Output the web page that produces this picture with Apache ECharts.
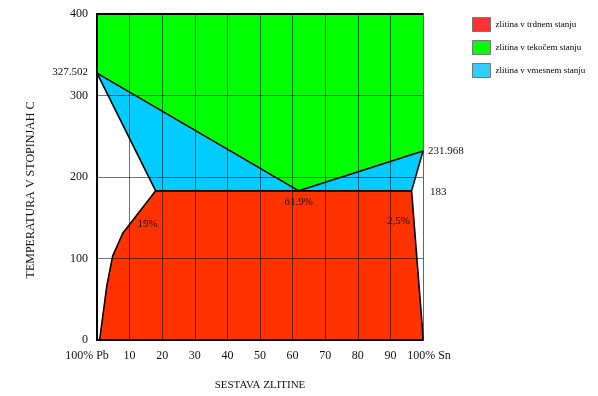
<!DOCTYPE html>
<html>
<head>
<meta charset="utf-8">
<script src="https://cdn.jsdelivr.net/npm/echarts@6/dist/echarts.min.js"></script>
<style>html,body{margin:0;padding:0;background:#fff}#c{width:598px;height:396px}</style>
</head>
<body>
<div id="c"></div>
<script>
// ---- data ----
const xTickLabels = ['100% Pb','10','20','30','40','50','60','70','80','90','100% Sn'];
const yTicks = [0,100,200,300,400];
const seriesNames = ['zlitina v trdnem stanju','zlitina v tekočem stanju','zlitina v vmesnem stanju'];
// phase regions (x = % Sn, y = temperature °C)
const solidRegion  = [[0.8,0],[3,66],[4.8,103],[7.9,131],[18,183],[96.5,183],[99.8,15],[100,0]];
const liquidRegion = [[0,400],[100,400],[100,231.968],[61.9,183],[0,327.502]];
const mushyRegion  = [[0,327.502],[18,183],[96.5,183],[100,231.968],[61.9,183]];
// boundary lines
const liquidusLine     = [[0,327.502],[61.9,183],[100,231.968]];
const leftSolidusLine  = [[0,327.502],[18,183],[7.9,131],[4.8,103],[3,66],[0.8,0]];
const eutecticLine     = [[18,183],[96.5,183]];
const rightSolidusLine = [[100,231.968],[96.5,183],[99.8,15],[100,0]];
// annotations [x, y, text]
const annotations = [
  [0,327.502,'327.502'],
  [100,231.968,'231.968'],
  [100,183,'183'],
  [61.9,183,'61.9%'],
  [15.5,142,'19%'],
  [92.5,146,'2,5%']
];

const SERIF = '"Liberation Serif","DejaVu Serif",serif';
const colors = ['#ff3300','#00ff00','#00ccff'];
const legendColors = ['#ff3333','#00ff00','#33ccff'];

function polyRenderer(points){
  return function(params, api){
    if (params.dataIndex !== 0) return null;
    return {
      type:'polygon',
      shape:{points: points.map(p => api.coord(p))},
      style:{fill: api.visual('color')}
    };
  };
}
function lineSeries(data){
  return {type:'line', data:data, showSymbol:false, symbol:'none', z:6,
    lineStyle:{color:'#000', width:1.6}, silent:true, animation:false};
}
// annotation offsets/alignments (style, not data)
const annStyle = {
  '327.502':{dx:-9, dy:-1, align:'right', vAlign:'middle'},
  '231.968':{dx:5, dy:0, align:'left', vAlign:'middle'},
  '183':{dx:7, dy:1, align:'left', vAlign:'middle'},
  '61.9%':{dx:0, dy:6, align:'center', vAlign:'top'},
  '19%':{dx:0, dy:0, align:'center', vAlign:'middle'},
  '2,5%':{dx:0, dy:0, align:'center', vAlign:'middle'}
};

const chart = echarts.init(document.getElementById('c'), null, {renderer:'canvas'});
chart.setOption({
  animation:false,
  backgroundColor:'#fff',
  grid:{left:97, right:175, top:14, bottom:47, containLabel:false},
  legend:{
    orient:'vertical', left:467, top:12, itemWidth:18, itemHeight:14, itemGap:8,
    icon:'rect',
    textStyle:{fontFamily:SERIF, fontSize:9, color:'#000'},
    data: seriesNames.map((n,i)=>({name:n, itemStyle:{color:legendColors[i], borderColor:'#777', borderWidth:1}}))
  },
  xAxis:[{
    type:'value', min:0, max:100, interval:10, z:4,
    name:'SESTAVA ZLITINE', nameLocation:'middle', nameGap:40,
    nameTextStyle:{fontFamily:SERIF, fontSize:11, color:'#111'},
    axisLine:{show:true, onZero:false, lineStyle:{color:'#000', width:2}},
    axisTick:{show:false},
    axisLabel:{fontFamily:SERIF, fontSize:12, color:'#111', margin:10,
      formatter:function(v){
        const i = Math.round(v/10);
        if (i === 0) return '{l|' + xTickLabels[i] + '}';
        if (i === 10) return '{r|' + xTickLabels[i] + '}';
        return xTickLabels[i];
      },
      rich:{
        l:{fontFamily:SERIF, fontSize:12, color:'#111', padding:[0,20,0,0]},
        r:{fontFamily:SERIF, fontSize:12, color:'#111', padding:[0,0,0,12]}
      }},
    splitLine:{show:true, lineStyle:{color:'rgba(0,0,0,0.55)', width:1}}
  },{
    type:'value', position:'top', min:0, max:100, z:4,
    axisLine:{show:true, onZero:false, lineStyle:{color:'#000', width:2}},
    axisTick:{show:false}, axisLabel:{show:false}, splitLine:{show:false}
  }],
  yAxis:[{
    type:'value', min:0, max:400, interval:100, z:4,
    name:'TEMPERATURA V STOPINJAH C', nameLocation:'middle', nameGap:60, nameRotate:90,
    nameTextStyle:{fontFamily:SERIF, fontSize:12, color:'#111', padding:[0,26,0,0]},
    axisLine:{show:true, onZero:false, lineStyle:{color:'#000', width:2}},
    axisTick:{show:false},
    axisLabel:{fontFamily:SERIF, fontSize:12, color:'#111', margin:9,
      formatter:function(v){ return yTicks.indexOf(v) >= 0 ? String(v) : ''; }},
    splitLine:{show:true, lineStyle:{color:'rgba(0,0,0,0.55)', width:1}}
  },{
    type:'value', position:'right', min:0, max:400, z:5,
    axisLine:{show:true, onZero:false, lineStyle:{color:'#e03030', width:1}},
    axisTick:{show:false}, axisLabel:{show:false}, splitLine:{show:false}
  }],
  series:[
    {type:'custom', name:seriesNames[1], data:liquidRegion, renderItem:polyRenderer(liquidRegion),
      itemStyle:{color:colors[1]}, z:1, silent:true},
    {type:'custom', name:seriesNames[2], data:mushyRegion, renderItem:polyRenderer(mushyRegion),
      itemStyle:{color:colors[2]}, z:1, silent:true},
    {type:'custom', name:seriesNames[0], data:solidRegion, renderItem:polyRenderer(solidRegion),
      itemStyle:{color:colors[0]}, z:1, silent:true},
    lineSeries(liquidusLine),
    lineSeries(leftSolidusLine),
    lineSeries(eutecticLine),
    lineSeries(rightSolidusLine),
    {type:'custom', name:'annotations', data:annotations, z:7, silent:true, clip:false,
      renderItem:function(params, api){
        const a = annotations[params.dataIndex];
        const p = api.coord([a[0], a[1]]);
        const s = annStyle[a[2]];
        return {type:'text', x:p[0]+s.dx, y:p[1]+s.dy,
          style:{text:a[2], fontFamily:SERIF, fontSize:11, fill:'#111',
            align:s.align, verticalAlign:s.vAlign}};
      }}
  ]
});
</script>
</body>
</html>
